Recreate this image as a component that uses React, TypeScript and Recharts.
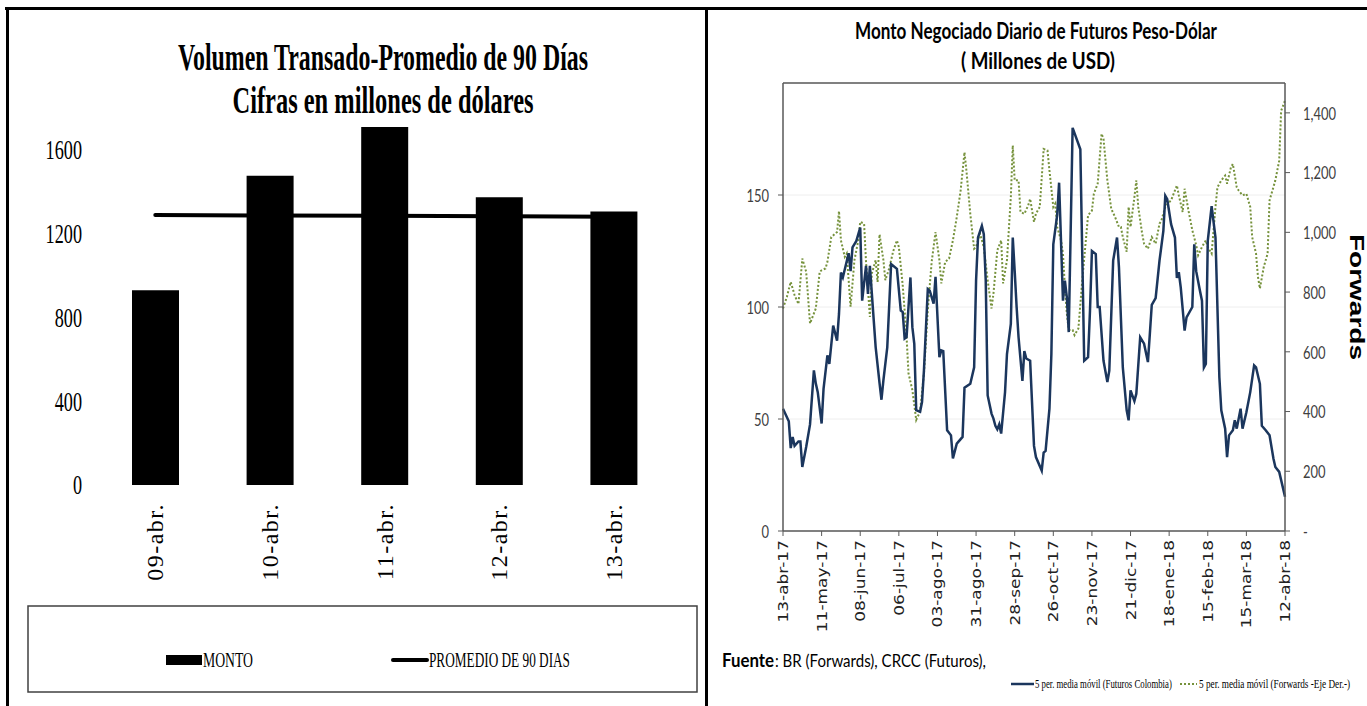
import React from 'react';
import { ComposedChart, LineChart, Bar, Line, XAxis, YAxis, CartesianGrid, ReferenceLine } from 'recharts';

// ---- Panel izquierdo: volumen transado ----
const dias = ['09-abr.', '10-abr.', '11-abr.', '12-abr.', '13-abr.'];
const monto = [928, 1473, 1705, 1371, 1303];
const promedio90 = [1286, 1284, 1282, 1280, 1278];
const montoTicks = [0, 400, 800, 1200, 1600];

// ---- Panel derecho: futuros vs forwards (eje x = dia habil desde 13-abr-17) ----
const fechas = ['13-abr-17', '11-may-17', '08-jun-17', '06-jul-17', '03-ago-17', '31-ago-17', '28-sep-17',
  '26-oct-17', '23-nov-17', '21-dic-17', '18-ene-18', '15-feb-18', '15-mar-18', '12-abr-18'];
const fechaDias = [0, 20, 40, 60, 80, 100, 120, 140, 160, 180, 200, 220, 240, 260];
const futurosTicks = [0, 50, 100, 150];
const forwardsTicks = [0, 200, 400, 600, 800, 1000, 1200, 1400];

const futurosDia = [0, 3, 4, 5, 6, 8, 9, 10, 12, 14, 16, 17, 18, 20, 21, 23, 24, 26, 28, 29, 30, 31, 34, 35, 36, 38, 40,
  41, 43, 44, 45, 47, 48, 50, 51, 52, 54, 56, 59, 61, 62, 63, 64, 66, 67, 68, 69, 71, 72, 73, 75, 76, 78, 79, 81, 82,
  83, 85, 87, 88, 90, 93, 94, 97, 99, 100, 101, 103, 104, 105, 106, 108, 109, 110, 111, 112, 113, 115, 116, 118, 119,
  120, 121, 122, 124, 125, 126, 128, 130, 131, 134, 135, 136, 138, 139, 140, 142, 143, 145, 146, 147, 148, 150, 154,
  156, 158, 159, 160, 162, 163, 164, 166, 168, 169, 171, 173, 174, 176, 178, 179, 180, 182, 183, 185, 187, 189, 190,
  191, 193, 195, 197, 198, 199, 201, 203, 204, 205, 206, 208, 209, 212, 213, 214, 216, 217, 218, 219, 220, 222, 224,
  226, 227, 229, 230, 231, 233, 234, 235, 237, 238, 240, 242, 244, 245, 247, 248, 250, 252, 254, 255, 257, 258, 260];
const futurosValor = [54.6, 49, 37, 42, 38, 40, 40, 28.6, 37.5, 47.6, 71.7, 65.8, 62, 48, 63.5, 78.4, 74.6, 91.7, 85,
  96.9, 115.4, 113.2, 124, 116, 126.6, 129.5, 135.5, 102.8, 118.4, 105.8, 118.4, 94, 82, 66, 58.6, 67.2, 82, 119.2,
  117, 98.4, 97.7, 85.9, 86.6, 113.2, 91, 83.5, 53.9, 53.2, 57.6, 71.7, 108, 107.3, 101.5, 113.5, 77.6, 80.6, 80.3, 45,
  42.7, 32.4, 39, 42, 64, 65.7, 73.1, 111.8, 131, 136.2, 132.5, 111.8, 60.5, 52.4, 50.2, 47, 45.4, 47.6, 43.5, 62, 79,
  92.5, 131, 116, 100, 86.5, 67, 80.3, 77, 76, 38, 33, 27, 35, 35.8, 54.6, 79, 128, 141, 155.5, 102.8, 111.8, 104.4,
  88.8, 180, 170.4, 76, 77.6, 98.4, 125, 123.6, 100, 100, 76, 66.5, 71.6, 120.7, 131, 117.7, 73, 53.9, 49.4, 62.8, 58,
  61.3, 86.5, 83.6, 75.4, 88, 101, 104, 120.7, 134, 149.6, 148.1, 137, 131, 113, 115.5, 108.8, 89.5, 95.4, 100, 128,
  116, 107, 102.8, 73, 74.6, 129.5, 145, 131, 68.7, 53.9, 45.7, 33, 42.7, 45, 49.4, 45.7, 54.6, 45.7, 53, 62, 73.9, 73,
  65.7, 47, 45, 42.7, 32.4, 28.6, 26.4, 22.7, 15.3];

const forwardsDia = [0, 2, 4, 6, 8, 10, 12, 14, 17, 19, 20, 22, 23, 25, 28, 29, 30, 32, 33, 35, 37, 39, 40, 42, 43, 45,
  46, 48, 49, 50, 52, 53, 55, 57, 59, 60, 62, 64, 65, 67, 69, 71, 73, 75, 77, 79, 81, 82, 84, 86, 88, 90, 92, 94, 95,
  97, 99, 100, 102, 104, 106, 108, 109, 111, 113, 114, 116, 118, 119, 120, 122, 123, 125, 127, 128, 130, 131, 133, 135,
  137, 138, 140, 141, 142, 144, 145, 146, 147, 148, 150, 151, 153, 155, 157, 158, 160, 161, 163, 165, 166, 168, 170,
  172, 174, 175, 176, 178, 179, 180, 182, 183, 184, 186, 187, 189, 191, 193, 195, 196, 198, 200, 201, 204, 205, 207,
  208, 210, 212, 214, 215, 217, 219, 220, 222, 224, 225, 227, 229, 230, 232, 233, 235, 236, 238, 240, 242, 243, 245,
  246, 247, 249, 251, 252, 255, 257, 258, 260];
const forwardsValor = [745, 784, 834, 790, 760, 912, 868, 695, 745, 868, 873, 879, 901, 984, 1001, 1071, 973, 918, 929,
  751, 907, 973, 1035, 1029, 901, 717, 862, 907, 834, 993, 907, 840, 879, 935, 973, 951, 823, 651, 528, 472, 372, 400,
  528, 740, 901, 1001, 907, 829, 901, 912, 973, 1051, 1140, 1268, 1207, 1062, 945, 951, 996, 951, 840, 745, 795, 940,
  973, 829, 907, 1118, 1291, 1174, 1174, 1068, 1062, 1090, 1112, 1035, 1062, 1085, 1279, 1274, 1207, 1085, 1096, 1018,
  973, 929, 818, 729, 673, 673, 656, 678, 840, 984, 1057, 1073, 1129, 1163, 1330, 1313, 1174, 1079, 1051, 1018, 1018,
  984, 935, 1085, 1018, 1118, 1174, 1085, 996, 962, 945, 984, 962, 1029, 1040, 1085, 1101, 1107, 1157, 1124, 1068, 1146,
  1073, 1007, 957, 923, 951, 973, 951, 929, 1085, 1151, 1174, 1190, 1163, 1218, 1229, 1151, 1140, 1124, 1129, 1085,
  984, 929, 851, 812, 884, 929, 1107, 1174, 1240, 1407, 1441];

const barData = dias.map((d, k) => ({ dia: d, monto: monto[k], promedio: promedio90[k] }));

const serieData = (() => {
  const rows: Record<number, any> = {};
  futurosDia.forEach((d, k) => { rows[d] = { ...(rows[d] || { i: d }), fut: futurosValor[k] }; });
  forwardsDia.forEach((d, k) => { rows[d] = { ...(rows[d] || { i: d }), fwd: forwardsValor[k] }; });
  return Object.values(rows).sort((a: any, b: any) => a.i - b.i);
})();

const SERIF = "'Liberation Serif', 'Times New Roman', serif";
const SANS = "Lato, 'Liberation Sans', sans-serif";
const FRAME = '#595959';
const NAVY = '#1b365d';
const OLIVE = '#76923c';

const SerifYTick = ({ x, y, payload }: any) => (
  <text transform={`translate(${x},${y}) scale(0.65,1)`} textAnchor="end" dominantBaseline="central"
    fontFamily={SERIF} fontSize={28} fill="#000">{payload.value}</text>
);

const SerifXTick = ({ x, y, payload }: any) => (
  <text transform={`translate(${x},${y + 10}) rotate(-90)`} textAnchor="end" dominantBaseline="central"
    fontFamily={SERIF} fontSize={24} letterSpacing={1.5} fill="#000">{payload.value}</text>
);

const SansYTick = ({ x, y, payload, textAnchor, fmt }: any) => (
  <text transform={`translate(${x},${y}) scale(0.72,1)`} textAnchor={textAnchor} dominantBaseline="central"
    fontFamily={SANS} fontSize={18} fill="#404040">{fmt ? fmt(payload.value) : payload.value}</text>
);

const FechaTick = ({ x, y, payload }: any) => (
  <text transform={`translate(${x},${y + 2}) rotate(-90) scale(1,0.85)`} textAnchor="end" dominantBaseline="central"
    fontFamily="'DejaVu Sans', sans-serif" fontSize={17} fill="#222">
    {fechas[fechaDias.indexOf(payload.value)]}
  </text>
);

const fmtMiles = (v: number) => (v === 0 ? '-' : v.toLocaleString('en-US'));

const ForwardsLabel = ({ viewBox }: any) => {
  const cx = viewBox.x + viewBox.width - 10;
  const cy = viewBox.y + viewBox.height / 2 - 10;
  return (
    <text transform={`translate(${cx},${cy}) rotate(90) scale(1,0.75)`} textAnchor="middle" dominantBaseline="central"
      fontFamily="'Liberation Sans', Arial, sans-serif" fontWeight="bold" fontSize={28} fill="#000">Forwards</text>
  );
};

export default function App() {
  return (
    <div style={{ position: 'absolute', left: 0, top: 0, width: 1367, height: 706, background: '#fff', overflow: 'hidden' }}>
      {/* marco */}
      <div style={{ position: 'absolute', left: 5, top: 7, width: 1362, height: 3, background: '#000' }} />
      <div style={{ position: 'absolute', left: 6, top: 7, width: 2.5, height: 699, background: '#000' }} />
      <div style={{ position: 'absolute', left: 705, top: 7, width: 2.5, height: 699, background: '#000' }} />

      <div style={{ position: 'absolute', left: 0, top: 0 }}>
        <ComposedChart width={700} height={600} data={barData} margin={{ top: 126, right: 29, left: 0, bottom: 15 }}>
          <XAxis dataKey="dia" axisLine={false} tickLine={false} interval={0} height={100} tick={<SerifXTick />} />
          <YAxis domain={[0, 1710]} ticks={montoTicks} width={98} axisLine={false} tickLine={false} tickMargin={10}
            interval={0} tick={<SerifYTick />} />
          <Line dataKey="promedio" stroke="#000" strokeWidth={4} strokeLinecap="round" dot={false} type="linear"
            isAnimationActive={false} />
          <Bar dataKey="monto" fill="#000" barSize={47} isAnimationActive={false} />
        </ComposedChart>
      </div>

      <div style={{ position: 'absolute', left: 710, top: 0 }}>
        <LineChart width={657} height={640} data={serieData} margin={{ top: 83, right: 0, left: 0, bottom: 9 }}>
          <CartesianGrid yAxisId="left" vertical={false} stroke="#eeeeee" />
          <XAxis dataKey="i" type="number" domain={[0, 260]} ticks={fechaDias} interval={0} height={100}
            axisLine={{ stroke: FRAME, strokeWidth: 1.5 }} tickLine={{ stroke: FRAME }} tickSize={5} tick={<FechaTick />} />
          <YAxis yAxisId="left" domain={[0, 200]} ticks={futurosTicks} interval={0} width={73}
            axisLine={{ stroke: FRAME, strokeWidth: 1.5 }} tickLine={{ stroke: FRAME }} tickSize={5} tickMargin={9}
            tick={<SansYTick />} />
          <YAxis yAxisId="right" orientation="right" domain={[0, 1500]} ticks={forwardsTicks} interval={0} width={82}
            axisLine={{ stroke: FRAME, strokeWidth: 1.5 }} tickLine={{ stroke: FRAME }} tickSize={5} tickMargin={13}
            tick={<SansYTick fmt={fmtMiles} />} label={<ForwardsLabel />} />
          <ReferenceLine yAxisId="left" y={200} stroke={FRAME} strokeWidth={1.5} />
          <Line yAxisId="right" dataKey="fwd" stroke={OLIVE} strokeWidth={2} strokeDasharray="2 2" dot={false}
            connectNulls type="linear" isAnimationActive={false} />
          <Line yAxisId="left" dataKey="fut" stroke={NAVY} strokeWidth={2.5} dot={false} connectNulls type="linear"
            isAnimationActive={false} />
        </LineChart>
      </div>

      {/* titulos, leyendas y fuente */}
      <svg width={1367} height={706} style={{ position: 'absolute', left: 0, top: 0, pointerEvents: 'none' }}>
        <g fontFamily={SERIF} fontWeight="bold" fill="#000" fontSize={37} textAnchor="middle">
          <text x={383} y={70} textLength={410} lengthAdjust="spacingAndGlyphs">Volumen Transado-Promedio de 90 Días</text>
          <text x={383} y={113} textLength={301} lengthAdjust="spacingAndGlyphs">Cifras en millones de dólares</text>
        </g>
        <rect x={28} y={606} width={669} height={86} fill="none" stroke="#404040" strokeWidth={1.5} />
        <rect x={166} y={655} width={36} height={10} fill="#000" />
        <text x={203} y={667} fontFamily={SERIF} fontSize={20} textLength={50} lengthAdjust="spacingAndGlyphs">MONTO</text>
        <line x1={393} y1={660} x2={427} y2={660} stroke="#000" strokeWidth={4} strokeLinecap="round" />
        <text x={429} y={667} fontFamily={SERIF} fontSize={20} textLength={141} lengthAdjust="spacingAndGlyphs">PROMEDIO DE 90 DIAS</text>

        <g fontFamily={SANS} fontWeight="bold" fill="#000" fontSize={23} textAnchor="middle">
          <text x={1036} y={39} textLength={362} lengthAdjust="spacingAndGlyphs">Monto Negociado Diario de Futuros Peso-Dólar</text>
          <text x={1038} y={69} textLength={154} lengthAdjust="spacingAndGlyphs">( Millones de USD)</text>
        </g>
        <text x={722} y={667} fontFamily={SANS} fontWeight="bold" fontSize={18} textLength={52} lengthAdjust="spacingAndGlyphs">Fuente</text>
        <text x={775} y={667} fontFamily={SANS} fontSize={18} textLength={211} lengthAdjust="spacingAndGlyphs">: BR (Forwards), CRCC (Futuros),</text>
        <line x1={1011} y1={684} x2={1034} y2={684} stroke={NAVY} strokeWidth={2.5} />
        <text transform="translate(1035,688) scale(0.72,1)" fontFamily={SERIF} fontSize={12} textLength={190}
          lengthAdjust="spacingAndGlyphs">5 per. media móvil (Futuros Colombia)</text>
        <line x1={1180} y1={684} x2={1197} y2={684} stroke={OLIVE} strokeWidth={2} strokeDasharray="2 2" />
        <text transform="translate(1199,688) scale(0.72,1)" fontFamily={SERIF} fontSize={12} textLength={210}
          lengthAdjust="spacingAndGlyphs">5 per. media móvil (Forwards -Eje Der.-)</text>
      </svg>
    </div>
  );
}
